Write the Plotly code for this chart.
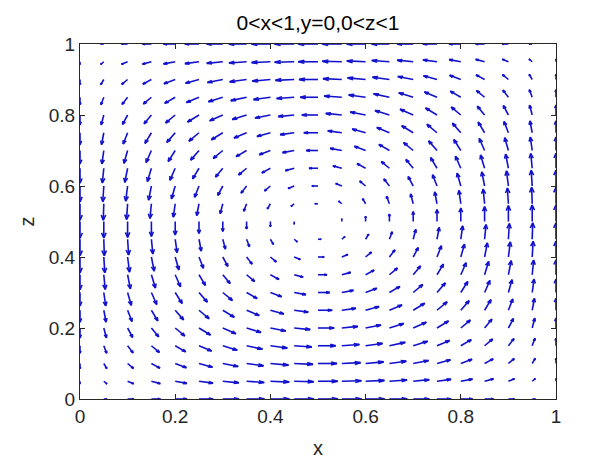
"""
    Quiver plot of the velocity field in the plane y=0 (x-z slice)
"""

import numpy as np
import plotly.graph_objects as go
import plotly.figure_factory as ff

# Grid positions (0 to 1 every 0.05)
x_grid = [0, 0.05, 0.1, 0.15, 0.2, 0.25, 0.3, 0.35, 0.4, 0.45, 0.5,
          0.55, 0.6, 0.65, 0.7, 0.75, 0.8, 0.85, 0.9, 0.95, 1]
z_grid = [0, 0.05, 0.1, 0.15, 0.2, 0.25, 0.3, 0.35, 0.4, 0.45, 0.5,
          0.55, 0.6, 0.65, 0.7, 0.75, 0.8, 0.85, 0.9, 0.95, 1]

# Relative arrow strength along the grid
# (rises from 0 at the walls to 1 in the middle)
mid_profile = [0, 0.16, 0.31, 0.45, 0.59, 0.71, 0.81, 0.89, 0.95, 0.99, 1,
               0.99, 0.95, 0.89, 0.81, 0.71, 0.59, 0.45, 0.31, 0.16, 0]
# (1 at the lower wall, 0 in the middle, -1 at the upper wall)
wall_profile = [1, 0.99, 0.95, 0.89, 0.81, 0.71, 0.59, 0.45, 0.31, 0.16, 0,
                -0.16, -0.31, -0.45, -0.59, -0.71, -0.81, -0.89, -0.95, -0.99, -1]

# Largest arrow length in data units (horizontal, vertical)
u_max = 0.042
w_max = 0.047

X, Z = np.meshgrid(x_grid, z_grid)
U = np.outer(wall_profile, mid_profile) * u_max     # rows = z, cols = x
W = -np.outer(mid_profile, wall_profile) * w_max

fig = ff.create_quiver(X.ravel(), Z.ravel(), U.ravel(), W.ravel(),
                       scale=1, arrow_scale=0.33, angle=np.arctan(0.33),
                       line=dict(color='#1212cc', width=1.6),
                       hoverinfo='skip')

font = "Liberation Sans, Arial, sans-serif"
axis_style = dict(range=[0, 1], tickvals=[0, 0.2, 0.4, 0.6, 0.8, 1],
                  ticktext=['0', '0.2', '0.4', '0.6', '0.8', '1'],
                  ticks='inside', ticklen=5, tickcolor='#262626',
                  showline=True, linecolor='#262626', linewidth=1,
                  mirror='ticks', showgrid=False, zeroline=False,
                  automargin=False,
                  tickfont=dict(size=19, color='#262626', family=font))

fig.update_layout(
    width=616, height=462,
    margin=dict(l=80, r=60, t=44, b=63),
    plot_bgcolor='white', paper_bgcolor='white',
    showlegend=False,
    title=dict(text='0<x<1,y=0,0<z<1', x=0.5, xref='paper', xanchor='center',
               y=0.952, yref='container', yanchor='middle',
               font=dict(size=21, color='black', family=font)),
    xaxis=dict(title=dict(text='x', standoff=15,
                          font=dict(size=20, color='#262626', family=font)),
               **axis_style),
    yaxis=dict(title=dict(text='z', standoff=8,
                          font=dict(size=20, color='#262626', family=font)),
               **axis_style),
)

# drop the page's default body margin so the figure sits at the window corner
fig.write_html("out.html", config={'displayModeBar': False},
               post_script="document.body.style.margin='0';")
